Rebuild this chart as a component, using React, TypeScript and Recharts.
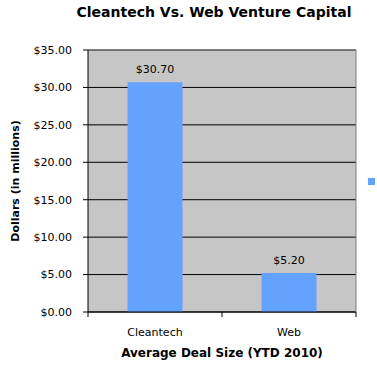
import React from 'react';
import { BarChart, Bar, XAxis, YAxis, CartesianGrid, LabelList, Legend, ReferenceLine } from 'recharts';

const categories = ['Cleantech', 'Web'];
const dealSizes = [30.7, 5.2];
const yTicks = [0, 5, 10, 15, 20, 25, 30, 35];
const yMax = 35;

const data = categories.map((c, i) => ({ name: c, value: dealSizes[i] }));

const FONT = '"DejaVu Sans", Verdana, sans-serif';
const BAR = '#64a2ff';
const X_TICK_GAP = 16;

const CategoryTick = (props: any) => {
  const { x, y, payload, index, visibleTicksCount } = props;
  const half = payload?.offset ?? 0;
  const axisY = y - X_TICK_GAP;
  const last = index === (visibleTicksCount ?? categories.length) - 1;
  return (
    <g>
      <line x1={x - half} x2={x - half} y1={axisY} y2={axisY + 5} stroke="#000" />
      {last && <line x1={x + half} x2={x + half} y1={axisY} y2={axisY + 5} stroke="#000" />}
      <text x={x} y={y} dy="0.71em" textAnchor="middle" fill="#000" fontSize={11} fontFamily={FONT}>
        {payload.value}
      </text>
    </g>
  );
};

export default function App() {
  return (
    <div style={{ position: 'absolute', left: 0, top: 0, width: 377, height: 371, fontFamily: FONT }}>
      <div
        style={{
          position: 'absolute',
          left: 0,
          top: 4,
          width: 428,
          textAlign: 'center',
          fontSize: 14,
          lineHeight: '17px',
          fontWeight: 'bold',
          color: '#000',
        }}
      >
        Cleantech Vs. Web Venture Capital
      </div>
      <BarChart
        width={377}
        height={371}
        data={data}
        margin={{ top: 50, right: 0, bottom: 0, left: 0 }}
        barCategoryGap="29.5%"
      >
        <CartesianGrid
          xAxisId="cat"
          yAxisId="left"
          vertical={false}
          stroke="#000"
          fill="#c6c6c6"
          fillOpacity={1}
        />
        <XAxis
          xAxisId="cat"
          dataKey="name"
          height={59}
          axisLine={{ stroke: '#000' }}
          tickLine={false}
          tickSize={0}
          tickMargin={X_TICK_GAP}
          tick={<CategoryTick />}
          label={{
            value: 'Average Deal Size (YTD 2010)',
            position: 'insideBottom',
            offset: 14,
            fill: '#000',
            fontSize: 12,
            fontWeight: 'bold',
            fontFamily: FONT,
          }}
        />
        <YAxis
          yAxisId="left"
          width={88}
          domain={[0, yMax]}
          ticks={yTicks}
          interval={0}
          tickFormatter={(v: number) => `$${v.toFixed(2)}`}
          axisLine={{ stroke: '#000' }}
          tickLine={{ stroke: '#000' }}
          tickSize={5}
          tickMargin={11}
          tick={{ fill: '#000', fontSize: 11, fontFamily: FONT }}
          label={{
            value: 'Dollars (in millions)',
            angle: -90,
            position: 'center',
            dx: -29,
            fill: '#000',
            fontSize: 11,
            fontWeight: 'bold',
            fontFamily: FONT,
          }}
        />
        <YAxis
          yAxisId="right"
          orientation="right"
          width={13}
          domain={[0, yMax]}
          tick={false}
          tickLine={false}
          axisLine={{ stroke: '#808080' }}
        />
        <ReferenceLine xAxisId="cat" yAxisId="left" y={yMax} stroke="#808080" ifOverflow="visible" />
        <Legend
          layout="horizontal"
          verticalAlign="middle"
          align="right"
          wrapperStyle={{ left: 368, top: 178, width: 8, height: 8 }}
          content={() => <div style={{ width: 7, height: 7, background: BAR }} />}
        />
        <Bar
          xAxisId="cat"
          yAxisId="left"
          dataKey="value"
          name=" "
          fill={BAR}
          isAnimationActive={false}
        >
          <LabelList
            dataKey="value"
            position="top"
            offset={9}
            formatter={(v: number) => `$${Number(v).toFixed(2)}`}
            style={{ fill: '#000', fontSize: 11, fontFamily: FONT }}
          />
        </Bar>
      </BarChart>
    </div>
  );
}
